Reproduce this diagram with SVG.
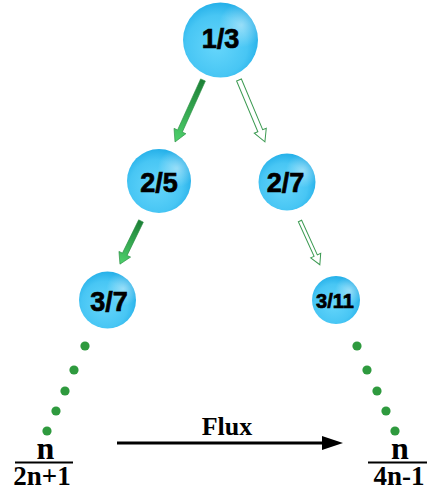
<svg xmlns="http://www.w3.org/2000/svg" width="427" height="490" viewBox="0 0 427 490">
<style>
.ball{fill:url(#sph)}
.hl{fill:url(#hl)}
.lbl{font-family:"Liberation Sans",Arial,sans-serif;font-weight:bold;fill:#000;stroke:#000;stroke-width:0.7;text-anchor:middle}
.frac{font-family:"Liberation Serif","Times New Roman",serif;font-weight:bold;fill:#000;text-anchor:middle}
.solid{fill:url(#grn);stroke:#2a8f43;stroke-width:0.6}
.hollow{fill:#fff;stroke:#3c9a52;stroke-width:1}
.dot{fill:#2e9a3e}
</style>
<defs>
<radialGradient id="sph" cx="0.45" cy="0.58" r="0.58">
<stop offset="0" stop-color="#66d6fb"/>
<stop offset="0.7" stop-color="#48c6f4"/>
<stop offset="1" stop-color="#25b0e9"/>
</radialGradient>
<radialGradient id="hl" cx="0.78" cy="0.3" r="0.3">
<stop offset="0" stop-color="#ffffff" stop-opacity="0.45"/>
<stop offset="1" stop-color="#ffffff" stop-opacity="0"/>
</radialGradient>
<linearGradient id="grn" x1="0" y1="0" x2="1" y2="0">
<stop offset="0" stop-color="#1c7f36"/>
<stop offset="1" stop-color="#4fd26c"/>
</linearGradient>
</defs>

<g id="connectors">
<polygon class="solid" transform="translate(203,80) rotate(114.3)" points="0,-2.6 56,-2.6 56,-6.5 68,0 56,6.5 56,2.6 0,2.6"/>
<polygon class="hollow" transform="translate(239,80) rotate(67.25)" points="0,-2.6 55,-2.6 55,-6.5 67,0 55,6.5 55,2.6 0,2.6"/>
<polygon class="solid" transform="translate(141,221) rotate(116)" points="0,-2.6 37,-2.6 37,-6.5 48,0 37,6.5 37,2.6 0,2.6"/>
<polygon class="hollow" transform="translate(300,221) rotate(65.6)" points="0,-1.8 38,-1.8 38,-5.5 48,0 38,5.5 38,1.8 0,1.8"/>
<g id="dots-left">
<circle class="dot" cx="85" cy="346" r="4.6"/>
<circle class="dot" cx="74" cy="370" r="4.6"/>
<circle class="dot" cx="65" cy="391" r="4.6"/>
<circle class="dot" cx="56" cy="411" r="4.6"/>
<circle class="dot" cx="47" cy="431" r="4.6"/>
</g>
<g id="dots-right">
<circle class="dot" cx="357" cy="346" r="4.6"/>
<circle class="dot" cx="367" cy="370" r="4.6"/>
<circle class="dot" cx="377" cy="391" r="4.6"/>
<circle class="dot" cx="386" cy="411" r="4.6"/>
<circle class="dot" cx="395" cy="431" r="4.6"/>
</g>
<g id="flux">
<line x1="117" y1="443" x2="326" y2="443" stroke="#000" stroke-width="3"/>
<polygon points="322,436 343,443 322,450" fill="#000"/>
<text class="frac" x="227" y="435" font-size="26">Flux</text>
</g>
</g>

<g id="n13">
<circle class="ball" cx="220.5" cy="40" r="37.5"/>
<circle class="hl" cx="220.5" cy="40" r="37.5"/>
<text class="lbl" x="220.5" y="48" font-size="27">1/3</text>
</g>
<g id="n25">
<circle class="ball" cx="159" cy="181" r="32"/>
<circle class="hl" cx="159" cy="181" r="32"/>
<text class="lbl" x="159" y="192" font-size="27">2/5</text>
</g>
<g id="n27">
<circle class="ball" cx="287" cy="182" r="28.5"/>
<circle class="hl" cx="287" cy="182" r="28.5"/>
<text class="lbl" x="285.5" y="192" font-size="27">2/7</text>
</g>
<g id="n37">
<circle class="ball" cx="107.5" cy="300" r="28.5"/>
<circle class="hl" cx="107.5" cy="300" r="28.5"/>
<text class="lbl" x="109" y="311" font-size="27">3/7</text>
</g>
<g id="n311">
<circle class="ball" cx="336" cy="300" r="24"/>
<circle class="hl" cx="336" cy="300" r="24"/>
<text class="lbl" x="335" y="308" font-size="20" stroke-width="0.5">3/11</text>
</g>

<g id="frac-left">
<text class="frac" x="45.5" y="459" font-size="32">n</text>
<line x1="15" y1="462.5" x2="73" y2="462.5" stroke="#000" stroke-width="2"/>
<text class="frac" x="42" y="485" font-size="27">2n+1</text>
</g>
<g id="frac-right">
<text class="frac" x="400" y="459" font-size="32">n</text>
<line x1="368" y1="462.5" x2="427" y2="462.5" stroke="#000" stroke-width="2"/>
<text class="frac" x="399" y="485" font-size="27">4n-1</text>
</g>
</svg>
